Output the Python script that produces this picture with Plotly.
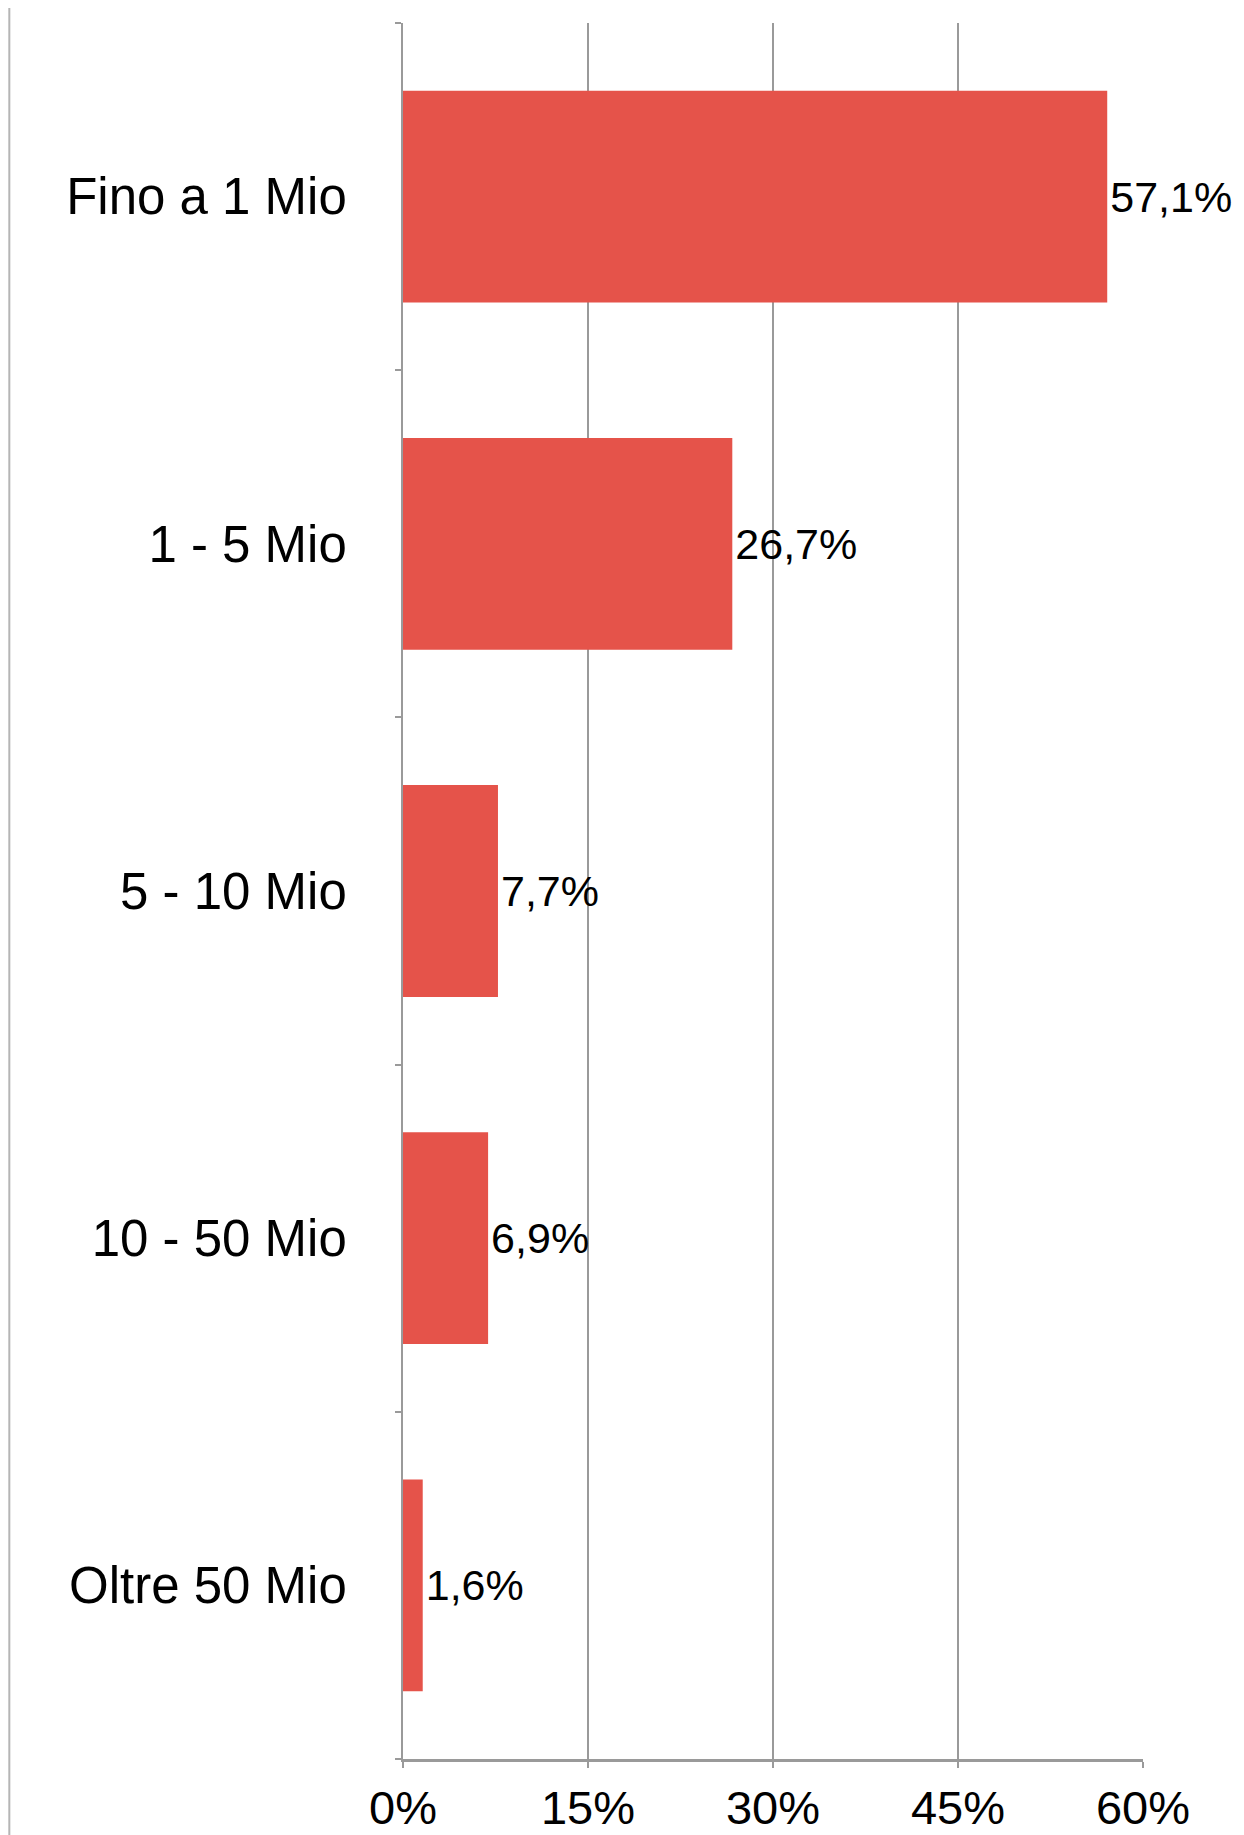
import plotly.graph_objects as go

categories = ["Fino a 1 Mio", "1 - 5 Mio", "5 - 10 Mio", "10 - 50 Mio", "Oltre 50 Mio"]
values = [57.1, 26.7, 7.7, 6.9, 1.6]
tick_values = [0, 15, 30, 45, 60]
tick_labels = ["0%", "15%", "30%", "45%", "60%"]

labels = [f"{v:.1f}".replace(".", ",") + "%" for v in values]

FONT = "Liberation Sans, Arial, sans-serif"

fig = go.Figure(
    go.Bar(
        y=categories,
        x=values,
        orientation="h",
        marker=dict(color="#E5534A", line=dict(width=0)),
        text=labels,
        textposition="outside",
        textfont=dict(family=FONT, size=43, color="#000000"),
        cliponaxis=False,
        hoverinfo="skip",
    )
)

fig.update_layout(
    width=1236,
    height=1827,
    margin=dict(l=395, r=101, t=15, b=76, autoexpand=False),
    paper_bgcolor="white",
    plot_bgcolor="white",
    bargap=0.39,
    showlegend=False,
    font=dict(family=FONT, color="#000000"),
)

fig.update_xaxes(
    range=[0, 60],
    tickvals=tick_values,
    ticktext=tick_labels,
    tickfont=dict(family=FONT, size=47, color="#000000"),
    showgrid=True,
    gridcolor="#9a9a9a",
    gridwidth=2,
    zeroline=False,
    showline=True,
    linecolor="#9a9a9a",
    linewidth=3,
    ticks="outside",
    ticklen=6,
    tickwidth=2,
    tickcolor="#9a9a9a",
    ticklabelstandoff=0,
    automargin=False,
)

fig.update_yaxes(
    categoryorder="array",
    categoryarray=categories[::-1],
    tickfont=dict(family=FONT, size=51, color="#000000"),
    showgrid=False,
    zeroline=False,
    showline=True,
    linecolor="#9a9a9a",
    linewidth=2,
    ticks="outside",
    tickson="boundaries",
    ticklen=6,
    tickwidth=2,
    tickcolor="#9a9a9a",
    ticklabelstandoff=44,
    automargin=False,
)

fig.add_shape(
    type="line",
    xref="paper",
    yref="paper",
    x0=-0.532,
    x1=-0.532,
    y0=-0.06,
    y1=1.02,
    line=dict(color="#b5b5b5", width=2),
)

fig.write_html("out.html")
